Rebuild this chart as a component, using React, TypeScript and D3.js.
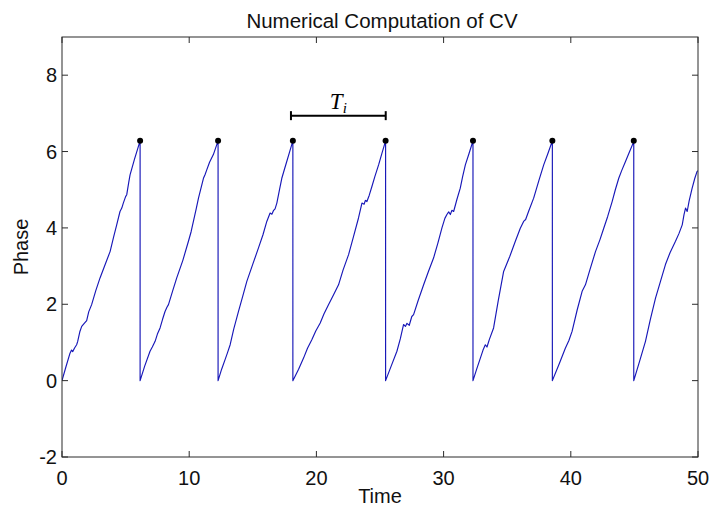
import React from "react";
import * as d3 from "d3";

const TITLE = "Numerical Computation of CV";
const X_LABEL = "Time";
const Y_LABEL = "Phase";
const xTicks = [0, 10, 20, 30, 40, 50];
const yTicks = [-2, 0, 2, 4, 6, 8];
const peakTimes = [6.14, 12.27, 18.15, 25.44, 32.31, 38.55, 44.95];
const peakPhase = 6.28;

const cycle1: [number, number][] = [
  [0, 0], [0.3, 0.35], [0.63, 0.72], [0.75, 0.8], [0.84, 0.76], [1.0, 0.86], [1.15, 0.94], [1.23, 1.02],
  [1.4, 1.28], [1.55, 1.42], [1.75, 1.5], [1.94, 1.57], [2.1, 1.8], [2.33, 1.99], [2.65, 2.35],
  [2.99, 2.69], [3.4, 3.05], [3.78, 3.38], [4.05, 3.75], [4.3, 4.08], [4.56, 4.43], [4.7, 4.52],
  [4.82, 4.65], [5.0, 4.82], [5.09, 4.87], [5.25, 5.2], [5.35, 5.39], [5.7, 5.8], [6.14, 6.28],
];
const cycle2: [number, number][] = [
  [6.14, 0], [6.5, 0.38], [6.92, 0.77], [7.1, 0.88], [7.32, 1.03], [7.5, 1.22], [7.71, 1.38],
  [7.9, 1.6], [8.1, 1.81], [8.25, 1.92], [8.37, 1.99], [8.7, 2.35], [9.02, 2.69], [9.5, 3.15],
  [9.94, 3.65], [10.15, 3.9], [10.33, 4.17], [10.55, 4.5], [10.73, 4.78], [11.12, 5.3], [11.25, 5.4],
  [11.38, 5.52], [11.6, 5.72], [11.9, 5.92], [12.27, 6.28],
];
const cycle3: [number, number][] = [
  [12.27, 0], [12.55, 0.3], [12.82, 0.55], [13.0, 0.72], [13.22, 0.94], [13.5, 1.35], [13.87, 1.81],
  [14.2, 2.2], [14.53, 2.6], [15.0, 3.05], [15.44, 3.47], [15.8, 3.82], [16.1, 4.17], [16.36, 4.39],
  [16.5, 4.36], [16.62, 4.45], [16.75, 4.5], [16.89, 4.65], [17.1, 5.0], [17.28, 5.3], [17.5, 5.55],
  [17.67, 5.74], [17.9, 6.0], [18.15, 6.28],
];
const cycle4: [number, number][] = [
  [18.15, 0], [18.6, 0.3], [18.99, 0.59], [19.3, 0.85], [19.64, 1.07], [19.95, 1.3], [20.3, 1.51],
  [20.6, 1.75], [20.95, 1.99], [21.35, 2.25], [21.74, 2.51], [22.1, 2.9], [22.53, 3.3], [22.9, 3.75],
  [23.31, 4.26], [23.58, 4.65], [23.75, 4.62], [23.85, 4.72], [23.97, 4.69], [24.15, 4.85],
  [24.37, 5.09], [24.6, 5.35], [24.89, 5.65], [25.15, 5.95], [25.44, 6.28],
];
const cycle5: [number, number][] = [
  [25.44, 0], [25.9, 0.4], [26.33, 0.77], [26.6, 1.1], [26.85, 1.47], [27.0, 1.42], [27.12, 1.5],
  [27.3, 1.45], [27.5, 1.68], [27.64, 1.73], [28.0, 2.1], [28.43, 2.51], [28.8, 2.85], [29.21, 3.21],
  [29.55, 3.6], [29.87, 4.0], [30.1, 4.25], [30.26, 4.35], [30.4, 4.42], [30.53, 4.35], [30.65, 4.46],
  [30.79, 4.43], [31.05, 4.75], [31.31, 5.04], [31.5, 5.35], [31.71, 5.65], [32.0, 5.95], [32.31, 6.28],
];
const cycle6: [number, number][] = [
  [32.31, 0], [32.6, 0.3], [32.89, 0.59], [33.1, 0.8], [33.28, 0.94], [33.41, 0.88], [33.6, 1.08],
  [33.93, 1.38], [34.3, 2.1], [34.72, 2.86], [35.2, 3.25], [35.64, 3.65], [36.03, 3.99], [36.29, 4.17],
  [36.45, 4.22], [36.7, 4.45], [37.08, 4.78], [37.5, 5.25], [37.87, 5.65], [38.2, 5.95], [38.55, 6.28],
];
const cycle7: [number, number][] = [
  [38.55, 0], [39.1, 0.45], [39.57, 0.85], [39.85, 1.05], [40.1, 1.29], [40.5, 1.85], [40.89, 2.34],
  [41.15, 2.51], [41.5, 2.9], [41.94, 3.38], [42.3, 3.7], [42.59, 3.99], [42.9, 4.3], [43.25, 4.69],
  [43.5, 5.0], [43.77, 5.3], [44.0, 5.5], [44.3, 5.74], [44.6, 5.98], [44.95, 6.26],
];
const cycle8: [number, number][] = [
  [44.95, 0], [45.4, 0.5], [45.87, 1.03], [46.25, 1.6], [46.66, 2.16], [47.05, 2.6], [47.44, 3.04],
  [47.8, 3.35], [48.23, 3.65], [48.5, 3.85], [48.76, 4.08], [48.9, 4.35], [49.02, 4.52], [49.15, 4.43],
  [49.3, 4.7], [49.54, 5.04], [49.75, 5.3], [49.93, 5.48], [50, 5.5],
];
const cycles = [cycle1, cycle2, cycle3, cycle4, cycle5, cycle6, cycle7, cycle8];

const intervalStart = 18.0;
const intervalEnd = 25.45;
const intervalLevel = 6.94;

const W = 711;
const H = 512;
const M = { left: 62, right: 698, top: 37, bottom: 457 };
const FONT = "'Liberation Sans', Arial, sans-serif";
const AXIS = "#2b2b2b";

export default function App() {
  const x = d3.scaleLinear().domain([0, 50]).range([M.left, M.right]);
  const y = d3.scaleLinear().domain([-2, 9]).range([M.bottom, M.top]);
  const allPts = cycles.flat();
  const line = d3
    .line<[number, number]>()
    .x((d) => x(d[0]))
    .y((d) => y(d[1]));
  const tick = 6;
  return (
    <svg
      width={W}
      height={H}
      style={{ position: "absolute", left: 0, top: 0, background: "#fff" }}
      xmlns="http://www.w3.org/2000/svg"
    >
      <rect x={0} y={0} width={W} height={H} fill="#fff" />
      <defs>
        <clipPath id="plotclip">
          <rect x={M.left} y={M.top} width={M.right - M.left} height={M.bottom - M.top} />
        </clipPath>
      </defs>
      <text x={(M.left + M.right) / 2 + 2} y={28} textAnchor="middle" fontFamily={FONT} fontSize={20.5} fill="#111">
        {TITLE}
      </text>
      <g clipPath="url(#plotclip)">
        <path d={line(allPts) || ""} fill="none" stroke="#1717b8" strokeWidth={1.15} strokeLinejoin="round" />
      </g>
      {peakTimes.map((t, i) => (
        <circle key={i} cx={x(t)} cy={y(peakPhase)} r={3} fill="#000" />
      ))}
      <g stroke="#000" strokeWidth={2}>
        <line x1={x(intervalStart)} x2={x(intervalEnd)} y1={y(intervalLevel)} y2={y(intervalLevel)} />
        <line x1={x(intervalStart)} x2={x(intervalStart)} y1={y(intervalLevel) - 4.5} y2={y(intervalLevel) + 4.5} />
        <line x1={x(intervalEnd)} x2={x(intervalEnd)} y1={y(intervalLevel) - 4.5} y2={y(intervalLevel) + 4.5} />
      </g>
      <text
        x={(x(intervalStart) + x(intervalEnd)) / 2}
        y={y(intervalLevel) - 7}
        textAnchor="middle"
        fontFamily="'Liberation Serif', 'Times New Roman', serif"
        fontStyle="italic"
        fontSize={23}
        fill="#000"
      >
        T
        <tspan fontSize={15} dy={4}>i</tspan>
      </text>
      <rect
        x={M.left}
        y={M.top}
        width={M.right - M.left}
        height={M.bottom - M.top}
        fill="none"
        stroke={AXIS}
        strokeWidth={1}
      />
      {xTicks.map((t) => (
        <g key={"x" + t}>
          <line x1={x(t)} x2={x(t)} y1={M.bottom} y2={M.bottom - tick} stroke={AXIS} />
          <line x1={x(t)} x2={x(t)} y1={M.top} y2={M.top + tick} stroke={AXIS} />
          <text x={x(t)} y={485} textAnchor="middle" fontFamily={FONT} fontSize={20} fill="#111">
            {t}
          </text>
        </g>
      ))}
      {yTicks.map((v) => (
        <g key={"y" + v}>
          <line x1={M.left} x2={M.left + tick} y1={y(v)} y2={y(v)} stroke={AXIS} />
          <line x1={M.right} x2={M.right - tick} y1={y(v)} y2={y(v)} stroke={AXIS} />
          <text x={57} y={y(v) + 7} textAnchor="end" fontFamily={FONT} fontSize={20} fill="#111">
            {v}
          </text>
        </g>
      ))}
      <text x={(M.left + M.right) / 2} y={503} textAnchor="middle" fontFamily={FONT} fontSize={20} fill="#111">
        {X_LABEL}
      </text>
      <text
        transform={`translate(28, ${(M.top + M.bottom) / 2}) rotate(-90)`}
        textAnchor="middle"
        fontFamily={FONT}
        fontSize={20}
        fill="#111"
      >
        {Y_LABEL}
      </text>
    </svg>
  );
}
